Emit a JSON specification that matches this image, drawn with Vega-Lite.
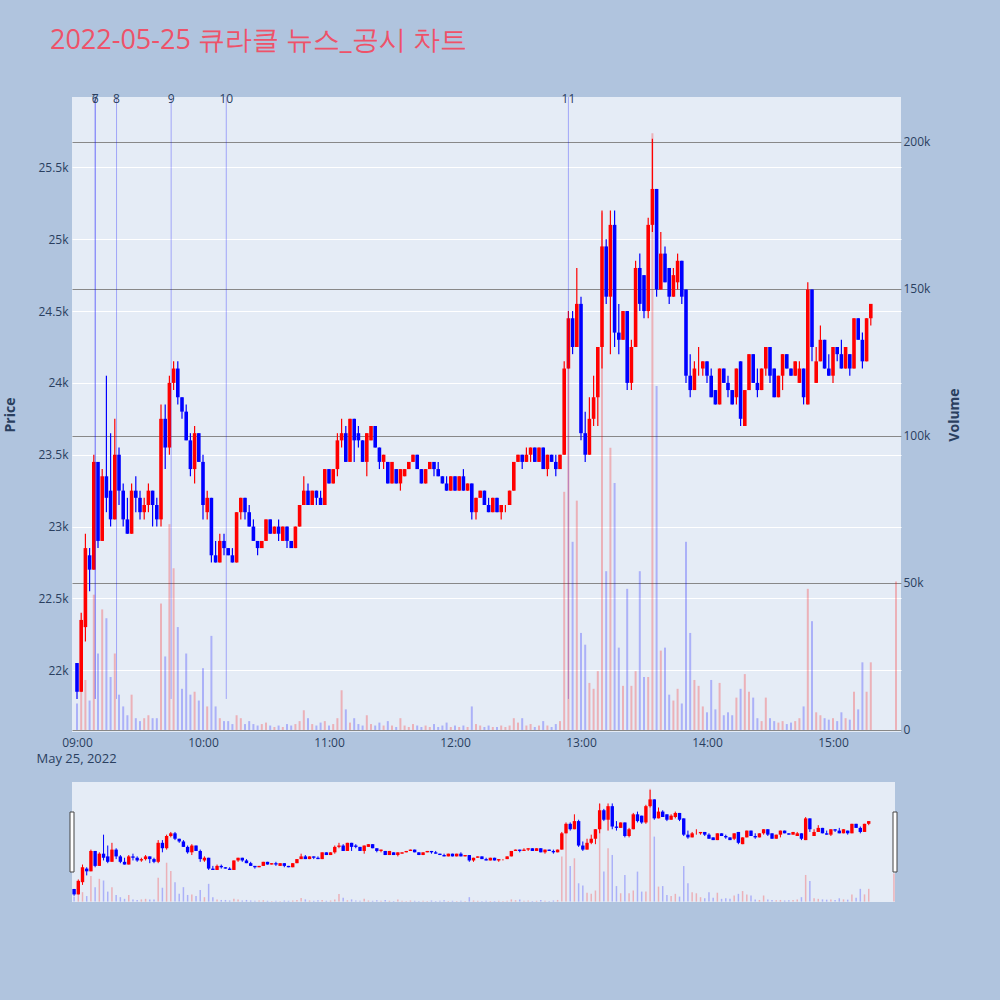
{
  "$schema": "https://vega.github.io/schema/vega-lite/v6.json",
  "background": "#b0c4de",
  "padding": {"left": 3, "top": 27, "right": 45, "bottom": 105},
  "title": {
    "text": "2022-05-25 큐라클 뉴스_공시 차트",
    "anchor": "start",
    "font": "Open Sans",
    "fontSize": 27,
    "fontWeight": "normal",
    "color": "#ee5269",
    "dx": 46,
    "offset": 38
  },
  "config": {
    "view": {"fill": "#e5ecf6", "stroke": null},
    "font": "Open Sans",
    "axis": {
      "labelColor": "#2a3f5f",
      "titleColor": "#2a3f5f",
      "labelFont": "Open Sans",
      "titleFont": "Open Sans",
      "labelFontSize": 12,
      "domain": false,
      "ticks": false
    }
  },
  "datasets": {
    "news": [
      {"t": "2022-05-25 09:08:40", "n": "6"},
      {"t": "2022-05-25 09:08:40", "n": "7"},
      {"t": "2022-05-25 09:18:50", "n": "8"},
      {"t": "2022-05-25 09:44:50", "n": "9"},
      {"t": "2022-05-25 10:11:05", "n": "10"},
      {"t": "2022-05-25 12:54:00", "n": "11"}
    ],
    "handles": [
      {"t": "2022-05-25 08:59:00"},
      {"t": "2022-05-25 15:30:30"}
    ],
    "bars": [
      {"t":"2022-05-25 09:00","o":22050,"h":22050,"l":21800,"c":21850,"v":9000},
      {"t":"2022-05-25 09:02","o":21850,"h":22400,"l":21850,"c":22350,"v":20000},
      {"t":"2022-05-25 09:04","o":22300,"h":22950,"l":22200,"c":22850,"v":17000},
      {"t":"2022-05-25 09:06","o":22800,"h":22850,"l":22550,"c":22700,"v":10000},
      {"t":"2022-05-25 09:08","o":22700,"h":23500,"l":22700,"c":23450,"v":46000},
      {"t":"2022-05-25 09:10","o":23450,"h":23450,"l":22850,"c":22900,"v":26000},
      {"t":"2022-05-25 09:12","o":22900,"h":23400,"l":22900,"c":23350,"v":41000},
      {"t":"2022-05-25 09:14","o":23350,"h":24050,"l":23100,"c":23200,"v":38000},
      {"t":"2022-05-25 09:16","o":23250,"h":23650,"l":23000,"c":23050,"v":18000},
      {"t":"2022-05-25 09:18","o":23050,"h":23750,"l":23050,"c":23500,"v":26000},
      {"t":"2022-05-25 09:20","o":23500,"h":23550,"l":23150,"c":23250,"v":12000},
      {"t":"2022-05-25 09:22","o":23250,"h":23300,"l":23000,"c":23050,"v":8000},
      {"t":"2022-05-25 09:24","o":23050,"h":23200,"l":22950,"c":22950,"v":5000},
      {"t":"2022-05-25 09:26","o":22950,"h":23300,"l":22950,"c":23250,"v":12000},
      {"t":"2022-05-25 09:28","o":23250,"h":23350,"l":23100,"c":23200,"v":4000},
      {"t":"2022-05-25 09:30","o":23200,"h":23250,"l":23050,"c":23100,"v":3000},
      {"t":"2022-05-25 09:32","o":23100,"h":23200,"l":23050,"c":23150,"v":4000},
      {"t":"2022-05-25 09:34","o":23150,"h":23300,"l":23100,"c":23250,"v":5000},
      {"t":"2022-05-25 09:36","o":23250,"h":23250,"l":23000,"c":23150,"v":4000},
      {"t":"2022-05-25 09:38","o":23150,"h":23200,"l":23000,"c":23050,"v":4000},
      {"t":"2022-05-25 09:40","o":23050,"h":23850,"l":23000,"c":23750,"v":43000},
      {"t":"2022-05-25 09:42","o":23750,"h":23850,"l":23400,"c":23550,"v":25000},
      {"t":"2022-05-25 09:44","o":23550,"h":24050,"l":23500,"c":24000,"v":70000},
      {"t":"2022-05-25 09:46","o":24000,"h":24150,"l":23950,"c":24100,"v":55000},
      {"t":"2022-05-25 09:48","o":24100,"h":24150,"l":23850,"c":23900,"v":35000},
      {"t":"2022-05-25 09:50","o":23900,"h":23900,"l":23750,"c":23800,"v":14000},
      {"t":"2022-05-25 09:52","o":23800,"h":23850,"l":23600,"c":23600,"v":26000},
      {"t":"2022-05-25 09:54","o":23600,"h":23650,"l":23350,"c":23400,"v":12000},
      {"t":"2022-05-25 09:56","o":23400,"h":23700,"l":23300,"c":23650,"v":13000},
      {"t":"2022-05-25 09:58","o":23650,"h":23650,"l":23450,"c":23450,"v":10000},
      {"t":"2022-05-25 10:00","o":23450,"h":23500,"l":23050,"c":23150,"v":21000},
      {"t":"2022-05-25 10:02","o":23100,"h":23250,"l":23050,"c":23200,"v":8000},
      {"t":"2022-05-25 10:04","o":23200,"h":23200,"l":22750,"c":22800,"v":32000},
      {"t":"2022-05-25 10:06","o":22800,"h":22900,"l":22750,"c":22750,"v":8000},
      {"t":"2022-05-25 10:08","o":22750,"h":22950,"l":22750,"c":22900,"v":4000},
      {"t":"2022-05-25 10:10","o":22900,"h":22950,"l":22800,"c":22850,"v":3000},
      {"t":"2022-05-25 10:12","o":22850,"h":22850,"l":22800,"c":22800,"v":3000},
      {"t":"2022-05-25 10:14","o":22800,"h":22850,"l":22750,"c":22750,"v":2000},
      {"t":"2022-05-25 10:16","o":22750,"h":23100,"l":22750,"c":23100,"v":5000},
      {"t":"2022-05-25 10:18","o":23100,"h":23200,"l":23050,"c":23200,"v":4000},
      {"t":"2022-05-25 10:20","o":23200,"h":23200,"l":23050,"c":23100,"v":2000},
      {"t":"2022-05-25 10:22","o":23100,"h":23150,"l":23000,"c":23000,"v":3000},
      {"t":"2022-05-25 10:24","o":23000,"h":23050,"l":22900,"c":22900,"v":2000},
      {"t":"2022-05-25 10:26","o":22900,"h":22900,"l":22800,"c":22850,"v":1500},
      {"t":"2022-05-25 10:28","o":22850,"h":22900,"l":22850,"c":22900,"v":2000},
      {"t":"2022-05-25 10:30","o":22900,"h":23050,"l":22900,"c":23050,"v":2500},
      {"t":"2022-05-25 10:32","o":23050,"h":23050,"l":22950,"c":22950,"v":1500},
      {"t":"2022-05-25 10:34","o":22950,"h":23000,"l":22950,"c":23000,"v":1000},
      {"t":"2022-05-25 10:36","o":23000,"h":23050,"l":22900,"c":22950,"v":1500},
      {"t":"2022-05-25 10:38","o":22900,"h":23000,"l":22900,"c":23000,"v":1000},
      {"t":"2022-05-25 10:40","o":23000,"h":23000,"l":22850,"c":22900,"v":2000},
      {"t":"2022-05-25 10:42","o":22900,"h":22900,"l":22850,"c":22850,"v":1500},
      {"t":"2022-05-25 10:44","o":22850,"h":23000,"l":22850,"c":23000,"v":2000},
      {"t":"2022-05-25 10:46","o":23000,"h":23150,"l":23000,"c":23150,"v":3000},
      {"t":"2022-05-25 10:48","o":23150,"h":23350,"l":23150,"c":23250,"v":6700},
      {"t":"2022-05-25 10:50","o":23250,"h":23300,"l":23150,"c":23150,"v":4000},
      {"t":"2022-05-25 10:52","o":23150,"h":23250,"l":23150,"c":23250,"v":2000},
      {"t":"2022-05-25 10:54","o":23250,"h":23250,"l":23150,"c":23200,"v":1500},
      {"t":"2022-05-25 10:56","o":23200,"h":23250,"l":23150,"c":23150,"v":2500},
      {"t":"2022-05-25 10:58","o":23150,"h":23400,"l":23150,"c":23400,"v":3000},
      {"t":"2022-05-25 11:00","o":23400,"h":23400,"l":23300,"c":23300,"v":1500},
      {"t":"2022-05-25 11:02","o":23300,"h":23400,"l":23300,"c":23400,"v":2000},
      {"t":"2022-05-25 11:04","o":23400,"h":23650,"l":23350,"c":23600,"v":4000},
      {"t":"2022-05-25 11:06","o":23600,"h":23750,"l":23550,"c":23650,"v":13500},
      {"t":"2022-05-25 11:08","o":23650,"h":23700,"l":23450,"c":23450,"v":7000},
      {"t":"2022-05-25 11:10","o":23450,"h":23750,"l":23450,"c":23750,"v":2500},
      {"t":"2022-05-25 11:12","o":23750,"h":23750,"l":23450,"c":23600,"v":4000},
      {"t":"2022-05-25 11:14","o":23650,"h":23700,"l":23550,"c":23600,"v":2000},
      {"t":"2022-05-25 11:16","o":23600,"h":23600,"l":23450,"c":23450,"v":1500},
      {"t":"2022-05-25 11:18","o":23450,"h":23650,"l":23350,"c":23650,"v":5000},
      {"t":"2022-05-25 11:20","o":23600,"h":23700,"l":23600,"c":23700,"v":2000},
      {"t":"2022-05-25 11:22","o":23700,"h":23700,"l":23550,"c":23550,"v":1500},
      {"t":"2022-05-25 11:24","o":23550,"h":23550,"l":23400,"c":23450,"v":2500},
      {"t":"2022-05-25 11:26","o":23450,"h":23500,"l":23400,"c":23500,"v":1500},
      {"t":"2022-05-25 11:28","o":23450,"h":23450,"l":23300,"c":23300,"v":3000},
      {"t":"2022-05-25 11:30","o":23300,"h":23450,"l":23300,"c":23450,"v":1500},
      {"t":"2022-05-25 11:32","o":23400,"h":23400,"l":23300,"c":23300,"v":1000},
      {"t":"2022-05-25 11:34","o":23300,"h":23400,"l":23250,"c":23400,"v":4000},
      {"t":"2022-05-25 11:36","o":23350,"h":23400,"l":23350,"c":23400,"v":1500},
      {"t":"2022-05-25 11:38","o":23400,"h":23450,"l":23400,"c":23450,"v":1000},
      {"t":"2022-05-25 11:40","o":23450,"h":23500,"l":23450,"c":23500,"v":2000},
      {"t":"2022-05-25 11:42","o":23500,"h":23500,"l":23400,"c":23400,"v":1500},
      {"t":"2022-05-25 11:44","o":23400,"h":23400,"l":23300,"c":23300,"v":1000},
      {"t":"2022-05-25 11:46","o":23300,"h":23400,"l":23300,"c":23400,"v":1500},
      {"t":"2022-05-25 11:48","o":23400,"h":23450,"l":23400,"c":23450,"v":1000},
      {"t":"2022-05-25 11:50","o":23450,"h":23450,"l":23350,"c":23400,"v":2000},
      {"t":"2022-05-25 11:52","o":23400,"h":23450,"l":23350,"c":23350,"v":1000},
      {"t":"2022-05-25 11:54","o":23350,"h":23350,"l":23300,"c":23300,"v":1500},
      {"t":"2022-05-25 11:56","o":23300,"h":23350,"l":23250,"c":23250,"v":2500},
      {"t":"2022-05-25 11:58","o":23250,"h":23350,"l":23250,"c":23350,"v":1000},
      {"t":"2022-05-25 12:00","o":23350,"h":23350,"l":23250,"c":23250,"v":1500},
      {"t":"2022-05-25 12:02","o":23250,"h":23350,"l":23250,"c":23350,"v":1000},
      {"t":"2022-05-25 12:04","o":23350,"h":23400,"l":23250,"c":23250,"v":1500},
      {"t":"2022-05-25 12:06","o":23250,"h":23300,"l":23250,"c":23300,"v":1000},
      {"t":"2022-05-25 12:08","o":23300,"h":23300,"l":23050,"c":23100,"v":8000},
      {"t":"2022-05-25 12:10","o":23100,"h":23200,"l":23050,"c":23200,"v":2000},
      {"t":"2022-05-25 12:12","o":23200,"h":23250,"l":23200,"c":23250,"v":1500},
      {"t":"2022-05-25 12:14","o":23250,"h":23250,"l":23150,"c":23150,"v":1000},
      {"t":"2022-05-25 12:16","o":23150,"h":23200,"l":23100,"c":23100,"v":1500},
      {"t":"2022-05-25 12:18","o":23100,"h":23200,"l":23100,"c":23200,"v":1000},
      {"t":"2022-05-25 12:20","o":23200,"h":23200,"l":23100,"c":23100,"v":1000},
      {"t":"2022-05-25 12:22","o":23100,"h":23150,"l":23050,"c":23150,"v":1500},
      {"t":"2022-05-25 12:24","o":23150,"h":23150,"l":23100,"c":23150,"v":1000},
      {"t":"2022-05-25 12:26","o":23150,"h":23250,"l":23150,"c":23250,"v":1500},
      {"t":"2022-05-25 12:28","o":23250,"h":23450,"l":23250,"c":23450,"v":4000},
      {"t":"2022-05-25 12:30","o":23450,"h":23500,"l":23450,"c":23500,"v":2500},
      {"t":"2022-05-25 12:32","o":23500,"h":23500,"l":23400,"c":23450,"v":4000},
      {"t":"2022-05-25 12:34","o":23450,"h":23550,"l":23450,"c":23500,"v":1500},
      {"t":"2022-05-25 12:36","o":23500,"h":23550,"l":23450,"c":23550,"v":2000},
      {"t":"2022-05-25 12:38","o":23550,"h":23550,"l":23450,"c":23450,"v":1000},
      {"t":"2022-05-25 12:40","o":23450,"h":23550,"l":23450,"c":23550,"v":1500},
      {"t":"2022-05-25 12:42","o":23550,"h":23550,"l":23400,"c":23400,"v":3000},
      {"t":"2022-05-25 12:44","o":23400,"h":23500,"l":23350,"c":23500,"v":1500},
      {"t":"2022-05-25 12:46","o":23500,"h":23500,"l":23450,"c":23450,"v":1000},
      {"t":"2022-05-25 12:48","o":23450,"h":23500,"l":23350,"c":23400,"v":2000},
      {"t":"2022-05-25 12:50","o":23400,"h":23500,"l":23400,"c":23500,"v":3000},
      {"t":"2022-05-25 12:52","o":23500,"h":24150,"l":23500,"c":24100,"v":81000},
      {"t":"2022-05-25 12:54","o":24100,"h":24500,"l":24100,"c":24450,"v":125000},
      {"t":"2022-05-25 12:56","o":24450,"h":24500,"l":24200,"c":24250,"v":64000},
      {"t":"2022-05-25 12:58","o":24250,"h":24800,"l":24250,"c":24550,"v":78000},
      {"t":"2022-05-25 13:00","o":24550,"h":24600,"l":23600,"c":23650,"v":33000},
      {"t":"2022-05-25 13:02","o":23650,"h":23800,"l":23450,"c":23500,"v":29000},
      {"t":"2022-05-25 13:04","o":23500,"h":23900,"l":23500,"c":23750,"v":16000},
      {"t":"2022-05-25 13:06","o":23750,"h":24050,"l":23700,"c":23900,"v":14000},
      {"t":"2022-05-25 13:08","o":23900,"h":24250,"l":23700,"c":24250,"v":20000},
      {"t":"2022-05-25 13:10","o":24250,"h":25200,"l":24100,"c":24950,"v":176000},
      {"t":"2022-05-25 13:12","o":24950,"h":25000,"l":24550,"c":24600,"v":54000},
      {"t":"2022-05-25 13:14","o":24600,"h":25200,"l":24200,"c":25100,"v":96000},
      {"t":"2022-05-25 13:16","o":25100,"h":25200,"l":24250,"c":24350,"v":84000},
      {"t":"2022-05-25 13:18","o":24350,"h":24550,"l":24200,"c":24300,"v":28000},
      {"t":"2022-05-25 13:20","o":24300,"h":24500,"l":24300,"c":24500,"v":15000},
      {"t":"2022-05-25 13:22","o":24500,"h":24500,"l":23950,"c":24000,"v":48000},
      {"t":"2022-05-25 13:24","o":24000,"h":24300,"l":23950,"c":24250,"v":15000},
      {"t":"2022-05-25 13:26","o":24250,"h":24850,"l":24250,"c":24800,"v":20000},
      {"t":"2022-05-25 13:28","o":24800,"h":24900,"l":24500,"c":24550,"v":54000},
      {"t":"2022-05-25 13:30","o":24750,"h":24750,"l":24450,"c":24500,"v":18000},
      {"t":"2022-05-25 13:32","o":24500,"h":25150,"l":24450,"c":25100,"v":18000},
      {"t":"2022-05-25 13:34","o":25100,"h":25700,"l":25050,"c":25350,"v":203000},
      {"t":"2022-05-25 13:36","o":25350,"h":25350,"l":24600,"c":24650,"v":117000},
      {"t":"2022-05-25 13:38","o":24650,"h":25050,"l":24650,"c":24900,"v":27000},
      {"t":"2022-05-25 13:40","o":24900,"h":24950,"l":24700,"c":24700,"v":28000},
      {"t":"2022-05-25 13:42","o":24800,"h":24800,"l":24550,"c":24600,"v":12000},
      {"t":"2022-05-25 13:44","o":24600,"h":24800,"l":24600,"c":24750,"v":10000},
      {"t":"2022-05-25 13:46","o":24700,"h":24900,"l":24650,"c":24850,"v":14000},
      {"t":"2022-05-25 13:48","o":24850,"h":24850,"l":24550,"c":24600,"v":9000},
      {"t":"2022-05-25 13:50","o":24650,"h":24650,"l":24000,"c":24050,"v":64000},
      {"t":"2022-05-25 13:52","o":24050,"h":24200,"l":23900,"c":23950,"v":33000},
      {"t":"2022-05-25 13:54","o":23950,"h":24150,"l":23950,"c":24100,"v":17000},
      {"t":"2022-05-25 13:56","o":24100,"h":24250,"l":24050,"c":24100,"v":15000},
      {"t":"2022-05-25 13:58","o":24100,"h":24150,"l":24050,"c":24150,"v":8000},
      {"t":"2022-05-25 14:00","o":24150,"h":24150,"l":24000,"c":24050,"v":6000},
      {"t":"2022-05-25 14:02","o":24050,"h":24100,"l":23900,"c":23900,"v":17000},
      {"t":"2022-05-25 14:04","o":23950,"h":23950,"l":23850,"c":23850,"v":7000},
      {"t":"2022-05-25 14:06","o":23850,"h":24100,"l":23850,"c":24100,"v":16000},
      {"t":"2022-05-25 14:08","o":24100,"h":24100,"l":24000,"c":24000,"v":5000},
      {"t":"2022-05-25 14:10","o":24000,"h":24050,"l":23900,"c":23950,"v":6000},
      {"t":"2022-05-25 14:12","o":23950,"h":23950,"l":23850,"c":23850,"v":5000},
      {"t":"2022-05-25 14:14","o":23900,"h":24100,"l":23850,"c":24100,"v":11000},
      {"t":"2022-05-25 14:16","o":24150,"h":24150,"l":23700,"c":23750,"v":14000},
      {"t":"2022-05-25 14:18","o":23700,"h":23950,"l":23700,"c":23950,"v":19000},
      {"t":"2022-05-25 14:20","o":23950,"h":24200,"l":23950,"c":24200,"v":13000},
      {"t":"2022-05-25 14:22","o":24200,"h":24200,"l":24000,"c":24000,"v":11000},
      {"t":"2022-05-25 14:24","o":24000,"h":24100,"l":23900,"c":23950,"v":4000},
      {"t":"2022-05-25 14:26","o":23950,"h":24100,"l":23950,"c":24100,"v":3000},
      {"t":"2022-05-25 14:28","o":24100,"h":24250,"l":24050,"c":24250,"v":11000},
      {"t":"2022-05-25 14:30","o":24250,"h":24250,"l":24000,"c":24050,"v":4000},
      {"t":"2022-05-25 14:32","o":24100,"h":24100,"l":23900,"c":23900,"v":3000},
      {"t":"2022-05-25 14:34","o":23900,"h":24050,"l":23900,"c":24050,"v":2500},
      {"t":"2022-05-25 14:36","o":24050,"h":24200,"l":23950,"c":24200,"v":3000},
      {"t":"2022-05-25 14:38","o":24200,"h":24200,"l":24100,"c":24100,"v":2000},
      {"t":"2022-05-25 14:40","o":24100,"h":24100,"l":24050,"c":24050,"v":2500},
      {"t":"2022-05-25 14:42","o":24050,"h":24150,"l":24050,"c":24150,"v":3000},
      {"t":"2022-05-25 14:44","o":24000,"h":24150,"l":24000,"c":24100,"v":4000},
      {"t":"2022-05-25 14:46","o":24100,"h":24100,"l":23850,"c":23900,"v":8000},
      {"t":"2022-05-25 14:48","o":23850,"h":24700,"l":23850,"c":24650,"v":48000},
      {"t":"2022-05-25 14:50","o":24650,"h":24650,"l":24150,"c":24250,"v":37000},
      {"t":"2022-05-25 14:52","o":24000,"h":24250,"l":24000,"c":24150,"v":6000},
      {"t":"2022-05-25 14:54","o":24150,"h":24400,"l":24150,"c":24300,"v":5000},
      {"t":"2022-05-25 14:56","o":24300,"h":24300,"l":24100,"c":24100,"v":4000},
      {"t":"2022-05-25 14:58","o":24100,"h":24200,"l":24050,"c":24050,"v":3500},
      {"t":"2022-05-25 15:00","o":24050,"h":24250,"l":24000,"c":24250,"v":4000},
      {"t":"2022-05-25 15:02","o":24250,"h":24250,"l":24150,"c":24200,"v":3000},
      {"t":"2022-05-25 15:04","o":24200,"h":24300,"l":24100,"c":24100,"v":6000},
      {"t":"2022-05-25 15:06","o":24100,"h":24250,"l":24100,"c":24250,"v":4000},
      {"t":"2022-05-25 15:08","o":24200,"h":24200,"l":24050,"c":24100,"v":3500},
      {"t":"2022-05-25 15:10","o":24100,"h":24450,"l":24100,"c":24450,"v":13000},
      {"t":"2022-05-25 15:12","o":24450,"h":24450,"l":24300,"c":24300,"v":7000},
      {"t":"2022-05-25 15:14","o":24300,"h":24350,"l":24100,"c":24150,"v":23000},
      {"t":"2022-05-25 15:16","o":24150,"h":24450,"l":24150,"c":24450,"v":13000},
      {"t":"2022-05-25 15:18","o":24450,"h":24550,"l":24400,"c":24550,"v":23000},
      {"t":"2022-05-25 15:30","o":24650,"h":24650,"l":24650,"c":24650,"v":50500}
    ]
  },
  "data": {"name": "bars"},
  "spacing": 17,
  "vconcat": [
    {
      "width": 829,
      "height": 635,
      "encoding": {
        "x": {
          "field": "t",
          "type": "temporal",
          "scale": {
            "padding": 0,
            "domain": [
              {"year": 2022, "month": 5, "date": 25, "hours": 8, "minutes": 57, "seconds": 37},
              {"year": 2022, "month": 5, "date": 25, "hours": 15, "minutes": 32, "seconds": 23}
            ]
          },
          "axis": {
            "grid": false,
            "format": "%H:%M",
            "labelPadding": 5,
            "values": [
              {"year": 2022, "month": 5, "date": 25, "hours": 9},
              {"year": 2022, "month": 5, "date": 25, "hours": 10},
              {"year": 2022, "month": 5, "date": 25, "hours": 11},
              {"year": 2022, "month": 5, "date": 25, "hours": 12},
              {"year": 2022, "month": 5, "date": 25, "hours": 13},
              {"year": 2022, "month": 5, "date": 25, "hours": 14},
              {"year": 2022, "month": 5, "date": 25, "hours": 15}
            ],
            "title": "May 25, 2022",
            "titleFontSize": 13,
            "titleFontWeight": "normal",
            "titleAnchor": "start",
            "titleAlign": "left",
            "titleX": -36,
            "titlePadding": 4
          }
        }
      },
      "layer": [
        {
          "layer": [
            {
              "mark": {"type": "rule", "strokeWidth": 1.2},
              "encoding": {
                "y": {
                  "field": "l",
                  "type": "quantitative",
                  "scale": {"domain": [21570, 25990]},
                  "axis": {"orient": "left", "grid": true, "title": "Price", "titleFontSize": 14, "titleFontWeight": "bold", "titlePadding": 20, "values": [22000, 22500, 23000, 23500, 24000, 24500, 25000, 25500], "format": "~s", "labelPadding": 4, "gridColor": "#ffffff", "gridWidth": 1.2}
                },
                "y2": {"field": "h"},
                "color": {"condition": {"test": "datum.c >= datum.o", "value": "#ff0000"}, "value": "#0000ff"}
              }
            },
            {
              "mark": {"type": "rule", "strokeWidth": 3.6},
              "encoding": {
                "y": {
                  "field": "o",
                  "type": "quantitative",
                  "scale": {"domain": [21570, 25990]},
                  "axis": {"orient": "left", "grid": true, "title": "Price", "titleFontSize": 14, "titleFontWeight": "bold", "titlePadding": 20, "values": [22000, 22500, 23000, 23500, 24000, 24500, 25000, 25500], "format": "~s", "labelPadding": 4, "gridColor": "#ffffff", "gridWidth": 1.2}
                },
                "y2": {"field": "c"},
                "color": {"condition": {"test": "datum.c >= datum.o", "value": "#ff0000"}, "value": "#0000ff"}
              }
            },
            {
              "data": {"name": "news"},
              "mark": {"type": "rule", "color": "#0000ff", "opacity": 0.3, "strokeWidth": 1},
              "encoding": {
                "y": {
                  "datum": 21800,
                  "type": "quantitative",
                  "scale": {"domain": [21570, 25990]},
                  "axis": {"orient": "left", "grid": true, "title": "Price", "titleFontSize": 14, "titleFontWeight": "bold", "titlePadding": 20, "values": [22000, 22500, 23000, 23500, 24000, 24500, 25000, 25500], "format": "~s", "labelPadding": 4, "gridColor": "#ffffff", "gridWidth": 1.2}
                },
                "y2": {"datum": 25990}
              }
            },
            {
              "data": {"name": "news"},
              "mark": {"type": "text", "baseline": "middle", "dy": 2, "fontSize": 12, "color": "#2a3f5f"},
              "encoding": {
                "y": {
                  "datum": 25990,
                  "type": "quantitative",
                  "scale": {"domain": [21570, 25990]},
                  "axis": {"orient": "left", "grid": true, "title": "Price", "titleFontSize": 14, "titleFontWeight": "bold", "titlePadding": 20, "values": [22000, 22500, 23000, 23500, 24000, 24500, 25000, 25500], "format": "~s", "labelPadding": 4, "gridColor": "#ffffff", "gridWidth": 1.2}
                },
                "text": {"field": "n", "type": "nominal"}
              }
            }
          ]
        },
        {
          "mark": {"type": "bar", "size": 2, "opacity": 0.25},
          "encoding": {
            "y": {
              "field": "v",
              "type": "quantitative",
              "scale": {"domain": [-700, 215300]},
              "axis": {
                "orient": "right",
                "grid": true,
                "title": "Volume",
                "titleFontSize": 14,
                "titleFontWeight": "bold",
                "titleAngle": 270,
                "titlePadding": 32,
                "values": [0, 50000, 100000, 150000, 200000],
                "format": "~s",
                "labelExpr": "datum.value === 0 ? '0' : datum.label",
                "labelPadding": 2,
                "gridColor": "#888888"
              }
            },
            "color": {"condition": {"test": "datum.c >= datum.o", "value": "#ff0000"}, "value": "#0000ff"}
          }
        }
      ],
      "resolve": {"scale": {"y": "independent"}}
    },
    {
      "width": 823,
      "height": 120,
      "encoding": {
        "x": {
          "field": "t",
          "type": "temporal",
          "title": null,
          "axis": null,
          "scale": {
            "padding": 0,
            "domain": [
              {"year": 2022, "month": 5, "date": 25, "hours": 8, "minutes": 59, "seconds": 0},
              {"year": 2022, "month": 5, "date": 25, "hours": 15, "minutes": 30, "seconds": 30}
            ]
          }
        }
      },
      "layer": [
        {
          "mark": {"type": "bar", "size": 1.5, "opacity": 0.25},
          "encoding": {
            "y": {"field": "v", "type": "quantitative", "scale": {"domain": [-700, 215300]}, "axis": null},
            "color": {"condition": {"test": "datum.c >= datum.o", "value": "#ff0000"}, "value": "#0000ff"}
          }
        },
        {
          "layer": [
            {
              "mark": {"type": "rule", "strokeWidth": 1},
              "encoding": {
                "y": {"field": "l", "type": "quantitative", "scale": {"domain": [21570, 25990]}, "axis": null},
                "y2": {"field": "h"},
                "color": {"condition": {"test": "datum.c >= datum.o", "value": "#ff0000"}, "value": "#0000ff"}
              }
            },
            {
              "mark": {"type": "rule", "strokeWidth": 3.4},
              "encoding": {
                "y": {"field": "o", "type": "quantitative", "scale": {"domain": [21570, 25990]}, "axis": null},
                "y2": {"field": "c"},
                "color": {"condition": {"test": "datum.c >= datum.o", "value": "#ff0000"}, "value": "#0000ff"}
              }
            },
            {
              "data": {"name": "handles"},
              "mark": {"type": "bar", "size": 4, "fill": "#ffffff", "stroke": "#444444", "strokeWidth": 1},
              "encoding": {
                "y": {"datum": 22675, "type": "quantitative", "scale": {"domain": [21570, 25990]}, "axis": null},
                "y2": {"datum": 24885}
              }
            }
          ]
        }
      ],
      "resolve": {"scale": {"y": "independent"}}
    }
  ]
}
